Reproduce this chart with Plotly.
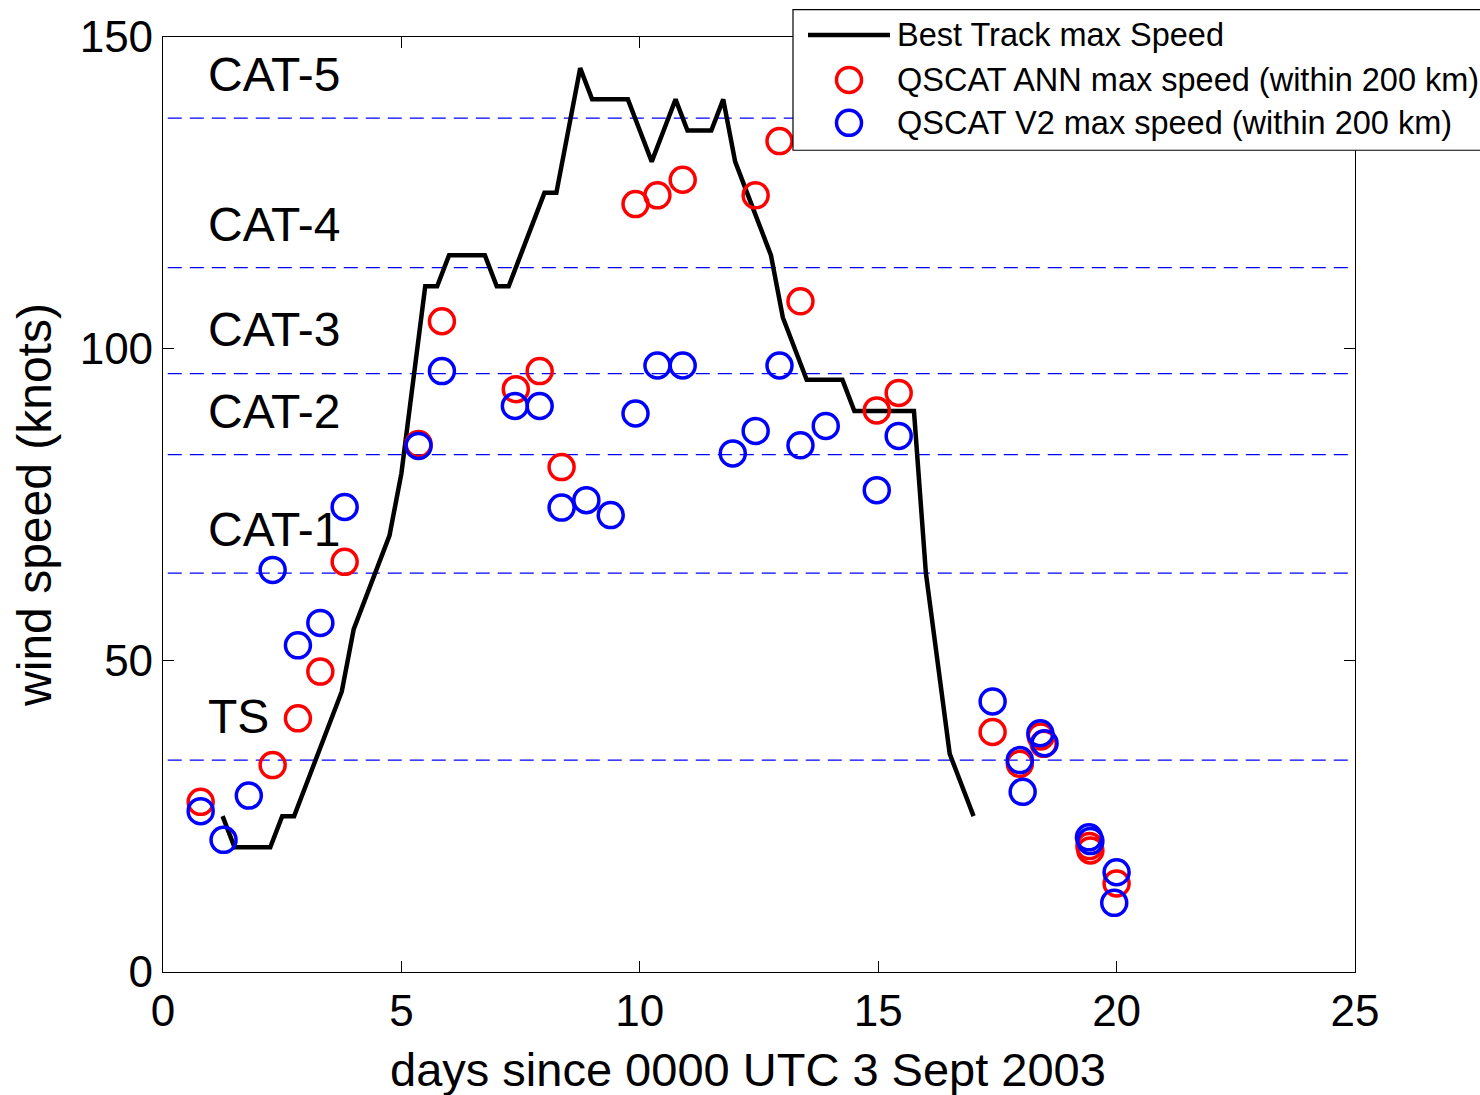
import plotly.graph_objects as go

# Best-track maximum sustained wind (knots), 6-hourly, days since 0000 UTC 3 Sept 2003
track_days = [1.25, 1.5, 1.75, 2.0, 2.25, 2.5, 2.75, 3.0, 3.25, 3.5, 3.75, 4.0, 4.25,
              4.5, 4.75, 5.0, 5.25, 5.5, 5.75, 6.0, 6.25, 6.5, 6.75, 7.0, 7.25, 7.5,
              7.75, 8.0, 8.25, 8.5, 8.75, 9.0, 9.25, 9.5, 9.75, 10.0, 10.25, 10.5,
              10.75, 11.0, 11.25, 11.5, 11.75, 12.0, 12.25, 12.5, 12.75, 13.0, 13.25,
              13.5, 13.75, 14.0, 14.25, 14.5, 14.75, 15.0, 15.25, 15.5, 15.75, 16.0,
              16.25, 16.5, 16.75, 17.0]
track_speed = [25, 20, 20, 20, 20, 25, 25, 30, 35, 40, 45, 55, 60,
               65, 70, 80, 95, 110, 110, 115, 115, 115, 115, 110, 110, 115,
               120, 125, 125, 135, 145, 140, 140, 140, 140, 135, 130, 135,
               140, 135, 135, 135, 140, 130, 125, 120, 115, 105, 100,
               95, 95, 95, 95, 90, 90, 90, 90, 90, 90, 64,
               50, 35, 30, 25]

# QSCAT ANN retrieval, max speed within 200 km of the storm centre
ann_days = [0.79, 2.30, 2.83, 3.30, 3.81, 5.36, 5.85, 7.40, 7.90, 8.36, 9.91, 10.37,
            10.90, 12.43, 12.93, 13.37, 14.97, 15.43, 17.40, 17.97, 18.41, 18.47,
            19.43, 19.45, 20.00]
ann_speed = [27.3, 33.2, 40.7, 48.2, 65.8, 84.7, 104.4, 93.5, 96.4, 81.0, 123.2, 124.6,
             127.1, 124.6, 133.3, 107.6, 90.1, 92.9, 38.5, 33.4, 37.8, 36.6,
             20.2, 19.5, 14.2]

# QSCAT V2 retrieval, max speed within 200 km of the storm centre
v2_days = [0.79, 1.27, 1.80, 2.30, 2.83, 3.30, 3.81, 5.36, 5.85, 7.38, 7.90, 8.36,
           8.88, 9.39, 9.91, 10.37, 10.90, 11.95, 12.43, 12.93, 13.37, 13.90, 14.97,
           15.43, 17.40, 17.97, 18.03, 18.40, 18.49, 19.42, 19.45, 20.00, 19.95]
v2_speed = [25.8, 21.2, 28.3, 64.5, 52.4, 56.0, 74.6, 84.4, 96.4, 90.8, 90.8, 74.5,
            75.7, 73.3, 89.6, 97.3, 97.3, 83.2, 86.8, 97.3, 84.5, 87.6, 77.3,
            86.0, 43.4, 34.0, 28.9, 38.3, 36.7, 21.6, 21.0, 16.0, 11.1]

# Saffir-Simpson category thresholds (knots) and their labels
cat_thresholds = [34, 64, 83, 96, 113, 137]
cat_names = ["TS", "CAT-1", "CAT-2", "CAT-3", "CAT-4", "CAT-5"]
cat_label_y = [41, 71, 90, 103, 120, 144]

legend_names = ["Best Track max Speed",
                "QSCAT ANN max speed (within 200 km)",
                "QSCAT V2 max speed (within 200 km)"]

FONT = "Liberation Sans, Arial, Helvetica, sans-serif"

fig = go.Figure()

fig.add_trace(go.Scatter(x=track_days, y=track_speed, mode="lines",
                         line=dict(color="black", width=4.5),
                         name=legend_names[0], showlegend=False))
fig.add_trace(go.Scatter(x=ann_days, y=ann_speed, mode="markers",
                         marker=dict(symbol="circle-open", size=25, color="#ff0000",
                                     line=dict(width=3.5)),
                         name=legend_names[1], showlegend=False))
fig.add_trace(go.Scatter(x=v2_days, y=v2_speed, mode="markers",
                         marker=dict(symbol="circle-open", size=25, color="#0000ff",
                                     line=dict(width=3.5)),
                         name=legend_names[2], showlegend=False))

shapes = []
annotations = []
for thr, name, ly in zip(cat_thresholds, cat_names, cat_label_y):
    shapes.append(dict(type="line", xref="x", yref="y", x0=0.1, x1=25, y0=thr, y1=thr,
                       line=dict(color="#0000ff", width=1.3, dash="14px,8px"),
                       layer="below"))
    annotations.append(dict(x=0.9, y=ly, xref="x", yref="y", text=name, showarrow=False,
                            xanchor="left", yanchor="middle",
                            font=dict(size=48, color="black", family=FONT)))

# Pixel -> paper helpers for the plot area
L, R, T, B = 163.0, 1355.0, 35.0, 972.0
def px(xp):
    return (xp - L) / (R - L)
def py(yp):
    return (B - yp) / (B - T)

# Legend box (top-right, running off the page edge)
shapes.append(dict(type="rect", xref="paper", yref="paper",
                   x0=px(793), x1=px(1500), y0=py(148.5), y1=py(7.5),
                   line=dict(color="black", width=1.2), fillcolor="white", layer="above"))
shapes.append(dict(type="line", xref="paper", yref="paper",
                   x0=px(808), x1=px(890), y0=py(33), y1=py(33),
                   line=dict(color="black", width=4.5), layer="above"))
for cy, col in [(78, "#ff0000"), (121, "#0000ff")]:
    shapes.append(dict(type="circle", xref="paper", yref="paper",
                       xsizemode="pixel", ysizemode="pixel",
                       xanchor=px(849), yanchor=py(cy),
                       x0=-12.5, x1=12.5, y0=-12.5, y1=12.5,
                       line=dict(color=col, width=3.5), fillcolor="rgba(0,0,0,0)",
                       layer="above"))
for cy, txt in zip([33, 78, 121], legend_names):
    annotations.append(dict(x=px(895), y=py(cy), xref="paper", yref="paper", text=txt,
                            showarrow=False, xanchor="left", yanchor="middle",
                            font=dict(size=32.5, color="black", family=FONT)))

# x-axis title
annotations.append(dict(x=px(748), y=py(1070), xref="paper", yref="paper",
                        text="days since 0000 UTC 3 Sept 2003", showarrow=False,
                        xanchor="center", yanchor="middle",
                        font=dict(size=47, color="black", family=FONT)))

axis_common = dict(showline=True, linecolor="black", linewidth=1.2, mirror="ticks",
                   ticks="inside", ticklen=11, tickwidth=1, tickcolor="black",
                   showgrid=False, zeroline=False,
                   tickfont=dict(size=44, color="black", family=FONT))

fig.update_layout(
    width=1480, height=1095,
    margin=dict(l=163, r=125, t=35, b=123),
    paper_bgcolor="white", plot_bgcolor="white",
    font=dict(family=FONT, color="black"),
    showlegend=False,
    shapes=shapes, annotations=annotations,
    xaxis=dict(range=[0, 25], tickmode="array", tickvals=[0, 5, 10, 15, 20, 25],
               **axis_common),
    yaxis=dict(range=[0, 150], tickmode="array", tickvals=[0, 50, 100, 150],
               title=dict(text="wind speed (knots)",
                          font=dict(size=48, family=FONT), standoff=12),
               **axis_common),
)

fig.write_html("out.html")
